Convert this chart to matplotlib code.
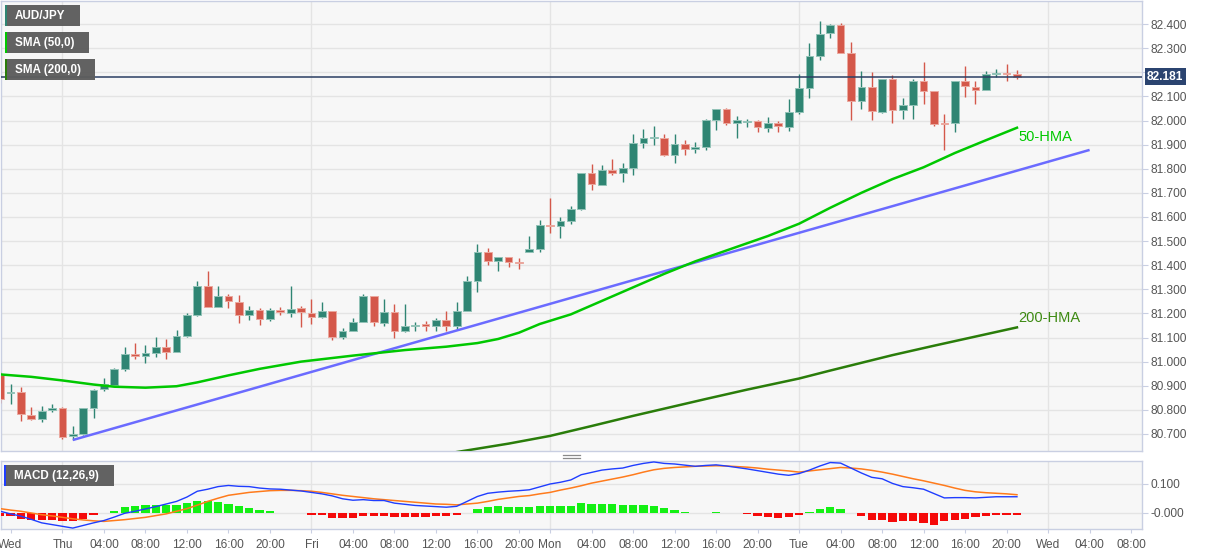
import matplotlib
matplotlib.use("Agg")
import matplotlib.pyplot as plt
from matplotlib.patches import Rectangle
from matplotlib.lines import Line2D

plt.rcParams['font.family'] = ['Liberation Sans', 'DejaVu Sans']

# ---------------- data (hourly bars, index 0 = Thu 00:00) ----------------
bar_index = list(range(-6, 93))
opens = [80.944, 80.872, 80.874, 80.778, 80.762, 80.799, 80.808, 80.690, 80.699, 80.808,
         80.886, 80.903, 80.968, 81.032, 81.024, 81.037, 81.060, 81.042, 81.107, 81.192,
         81.315, 81.228, 81.274, 81.247, 81.194, 81.214, 81.176, 81.214, 81.201, 81.222,
         81.201, 81.187, 81.208, 81.104, 81.129, 81.165, 81.271, 81.160, 81.207, 81.125,
         81.149, 81.155, 81.149, 81.174, 81.149, 81.210, 81.336, 81.454, 81.419, 81.433,
         81.413, 81.454, 81.469, 81.567, 81.564, 81.583, 81.633, 81.781, 81.733, 81.794,
         81.783, 81.803, 81.908, 81.928, 81.929, 81.858, 81.904, 81.882, 81.889, 82.004,
         82.049, 81.989, 81.992, 81.996, 81.967, 81.990, 81.974, 82.036, 82.136, 82.268,
         82.363, 82.394, 82.279, 82.082, 82.140, 82.036, 82.172, 82.043, 82.064, 82.165,
         82.122, 81.990, 81.988, 82.165, 82.140, 82.126, 82.194, 82.198, 82.192]
highs = [80.955, 80.906, 80.896, 80.810, 80.818, 80.824, 80.812, 80.733, 80.808, 80.885,
         80.931, 80.972, 81.060, 81.076, 81.068, 81.104, 81.093, 81.132, 81.201, 81.333,
         81.375, 81.315, 81.281, 81.278, 81.229, 81.221, 81.221, 81.226, 81.315, 81.229,
         81.260, 81.247, 81.210, 81.138, 81.181, 81.282, 81.273, 81.260, 81.239, 81.239,
         81.165, 81.168, 81.181, 81.208, 81.246, 81.357, 81.488, 81.471, 81.436, 81.436,
         81.429, 81.522, 81.589, 81.679, 81.599, 81.647, 81.783, 81.818, 81.814, 81.842,
         81.825, 81.942, 81.963, 81.979, 81.946, 81.942, 81.918, 81.911, 82.008, 82.049,
         82.050, 82.018, 82.008, 82.004, 82.013, 81.999, 82.088, 82.193, 82.321, 82.414,
         82.400, 82.404, 82.325, 82.206, 82.200, 82.174, 82.189, 82.092, 82.171, 82.242,
         82.122, 82.029, 82.165, 82.224, 82.165, 82.207, 82.214, 82.235, 82.210]
lows = [80.830, 80.826, 80.754, 80.760, 80.750, 80.792, 80.679, 80.677, 80.697, 80.768,
        80.880, 80.900, 80.962, 81.010, 80.993, 81.021, 81.010, 81.038, 81.101, 81.190,
        81.228, 81.225, 81.222, 81.160, 81.172, 81.153, 81.169, 81.193, 81.185, 81.143,
        81.157, 81.182, 81.090, 81.092, 81.126, 81.165, 81.149, 81.146, 81.096, 81.121,
        81.125, 81.128, 81.129, 81.125, 81.132, 81.208, 81.290, 81.399, 81.374, 81.394,
        81.383, 81.454, 81.453, 81.533, 81.513, 81.572, 81.628, 81.711, 81.731, 81.772,
        81.744, 81.775, 81.888, 81.900, 81.853, 81.825, 81.858, 81.865, 81.879, 81.960,
        81.983, 81.926, 81.974, 81.953, 81.953, 81.953, 81.957, 82.029, 82.092, 82.251,
        82.342, 82.282, 82.004, 82.046, 82.001, 82.033, 81.988, 82.008, 82.008, 82.067,
        81.976, 81.879, 81.953, 82.098, 82.067, 82.126, 82.182, 82.165, 82.171]
closes = [80.847, 80.876, 80.782, 80.762, 80.796, 80.806, 80.688, 80.698, 80.806, 80.883,
          80.906, 80.968, 81.033, 81.023, 81.034, 81.060, 81.042, 81.107, 81.192, 81.315,
          81.228, 81.274, 81.250, 81.194, 81.214, 81.176, 81.214, 81.204, 81.218, 81.204,
          81.187, 81.211, 81.101, 81.129, 81.165, 81.271, 81.163, 81.207, 81.126, 81.149,
          81.154, 81.147, 81.174, 81.149, 81.211, 81.335, 81.454, 81.418, 81.433, 81.414,
          81.407, 81.469, 81.567, 81.562, 81.583, 81.633, 81.781, 81.736, 81.794, 81.783,
          81.802, 81.908, 81.929, 81.931, 81.858, 81.904, 81.882, 81.889, 82.004, 82.049,
          81.988, 82.003, 81.996, 81.971, 81.990, 81.976, 82.036, 82.136, 82.266, 82.360,
          82.394, 82.282, 82.082, 82.138, 82.040, 82.172, 82.043, 82.064, 82.165, 82.124,
          81.985, 81.986, 82.165, 82.143, 82.126, 82.193, 82.198, 82.193, 82.181]
last_price = 82.181

# 50-HMA and 200-HMA (read at knots), trend line end points
hma50_idx = [-6, -3, 0, 3, 5, 8, 11, 13, 16, 19, 23, 28, 33, 37, 40, 42, 44, 46, 49, 52,
             55, 58, 61, 65, 68, 71, 74, 77, 80, 83, 86, 89, 92]
hma50_val = [80.947, 80.937, 80.922, 80.905, 80.896, 80.892, 80.898, 80.914, 80.943, 80.970,
             81.000, 81.025, 81.048, 81.062, 81.077, 81.094, 81.120, 81.156, 81.196, 81.252,
             81.308, 81.364, 81.416, 81.476, 81.521, 81.572, 81.638, 81.700, 81.757, 81.806,
             81.865, 81.918, 81.970]
hma200_idx = [36, 38, 43, 47, 51, 55, 59, 62, 66, 71, 74, 77, 80, 84, 88, 92]
hma200_val = [80.610, 80.625, 80.660, 80.692, 80.733, 80.775, 80.815, 80.845, 80.884, 80.930,
              80.963, 80.995, 81.027, 81.066, 81.104, 81.142]
trend_idx = [1, 99]
trend_val = [80.675, 81.878]

# MACD (12,26,9)
macd_line = [0.006, -0.003, -0.011, -0.022, -0.034, -0.040, -0.046, -0.052, -0.043, -0.034,
             -0.026, -0.014, -0.001, 0.006, 0.014, 0.022, 0.031, 0.040, 0.055, 0.075,
             0.082, 0.091, 0.095, 0.092, 0.091, 0.086, 0.083, 0.082, 0.079, 0.076,
             0.071, 0.066, 0.059, 0.049, 0.044, 0.046, 0.043, 0.043, 0.034, 0.030,
             0.026, 0.024, 0.022, 0.020, 0.023, 0.040, 0.057, 0.068, 0.072, 0.075,
             0.077, 0.080, 0.090, 0.100, 0.106, 0.114, 0.132, 0.140, 0.148, 0.152,
             0.155, 0.164, 0.171, 0.176, 0.171, 0.169, 0.165, 0.161, 0.164, 0.166,
             0.162, 0.157, 0.152, 0.146, 0.140, 0.134, 0.130, 0.136, 0.148, 0.162,
             0.174, 0.172, 0.155, 0.138, 0.123, 0.118, 0.102, 0.091, 0.087, 0.082,
             0.067, 0.052, 0.053, 0.053, 0.052, 0.054, 0.056, 0.056, 0.056]
signal_line = [0.015, 0.010, 0.006, 0.000, -0.006, -0.010, -0.015, -0.020, -0.024, -0.027,
               -0.029, -0.026, -0.023, -0.019, -0.015, -0.009, -0.003, 0.006, 0.015, 0.027,
               0.040, 0.051, 0.061, 0.066, 0.071, 0.074, 0.077, 0.078, 0.078, 0.077,
               0.075, 0.071, 0.066, 0.061, 0.057, 0.053, 0.049, 0.046, 0.043, 0.040,
               0.037, 0.034, 0.031, 0.030, 0.028, 0.031, 0.034, 0.040, 0.047, 0.052,
               0.057, 0.060, 0.066, 0.071, 0.079, 0.086, 0.094, 0.103, 0.110, 0.117,
               0.124, 0.132, 0.141, 0.149, 0.154, 0.157, 0.159, 0.161, 0.162, 0.163,
               0.162, 0.160, 0.158, 0.155, 0.151, 0.148, 0.145, 0.141, 0.145, 0.149,
               0.153, 0.157, 0.155, 0.152, 0.147, 0.141, 0.134, 0.126, 0.118, 0.111,
               0.103, 0.095, 0.086, 0.078, 0.073, 0.070, 0.068, 0.066, 0.063]
macd_hist = [-0.011, -0.011, -0.020, -0.025, -0.024, -0.024, -0.026, -0.029, -0.020, -0.008,
             0.001, 0.008, 0.020, 0.024, 0.026, 0.028, 0.028, 0.029, 0.033, 0.041,
             0.040, 0.038, 0.032, 0.023, 0.016, 0.009, 0.006, 0.002, 0.001, -0.002,
             -0.006, -0.006, -0.017, -0.018, -0.018, -0.010, -0.011, -0.011, -0.015, -0.015,
             -0.015, -0.015, -0.011, -0.011, -0.008, 0.002, 0.015, 0.021, 0.023, 0.021,
             0.020, 0.020, 0.024, 0.024, 0.024, 0.025, 0.033, 0.032, 0.032, 0.030,
             0.026, 0.029, 0.028, 0.024, 0.016, 0.010, 0.003, 0.000, 0.002, 0.003,
             0.001, -0.002, -0.005, -0.011, -0.014, -0.017, -0.015, -0.008, 0.003, 0.014,
             0.021, 0.015, -0.002, -0.011, -0.023, -0.023, -0.032, -0.029, -0.029, -0.034,
             -0.040, -0.026, -0.023, -0.020, -0.015, -0.009, -0.006, -0.006, -0.006]

# x-axis labels
tick_pos = [-5, 0, 4, 8, 12, 16, 20, 24, 28, 32, 36, 40, 44, 47, 51, 55, 59, 63, 67,
            71, 75, 79, 83, 87, 91, 95, 99, 103]
tick_lab = ['Wed', 'Thu', '04:00', '08:00', '12:00', '16:00', '20:00', 'Fri', '04:00', '08:00',
            '12:00', '16:00', '20:00', 'Mon', '04:00', '08:00', '12:00', '16:00', '20:00',
            'Tue', '04:00', '08:00', '12:00', '16:00', '20:00', 'Wed', '04:00', '08:00']
day_lines = [0, 24, 47, 71, 95]
price_ticks = [80.7, 80.8, 80.9, 81.0, 81.1, 81.2, 81.3, 81.4, 81.5, 81.6, 81.7, 81.8,
               81.9, 82.0, 82.1, 82.2, 82.3, 82.4]
macd_ticks = [0.0, 0.1]
macd_tick_lab = ['-0.000', '0.100']

# ---------------- figure ----------------
W, H = 1207, 555
fig = plt.figure(figsize=(W / 100, H / 100), dpi=100)
fig.patch.set_facecolor('white')


def fbox(x0, y0, x1, y1):
    return [x0 / W, 1 - y1 / H, (x1 - x0) / W, (y1 - y0) / H]


ax = fig.add_axes(fbox(1, 1, 1142, 451))
ax2 = fig.add_axes(fbox(1, 461, 1142, 529))

GREEN = '#2f8573'
RED = '#d4584a'
GREEN_E = '#93c3b8'
RED_E = '#eba89e'
GRID = '#e4e4e4'
SPINE = '#c9cfe2'
TXT = '#555555'

xmin, xmax = -5.92, 104.05
for a in (ax, ax2):
    a.set_facecolor('#f7f7f7')
    a.set_xlim(xmin, xmax)
    for s in a.spines.values():
        s.set_color(SPINE)
        s.set_linewidth(1)
    for d in day_lines:
        a.axvline(d, color=GRID, lw=1, zorder=0)

# main panel
ax.set_ylim(80.6294, 82.4956)
ax.yaxis.tick_right()
ax.set_yticks(price_ticks)
ax.set_yticklabels(['%.3f' % v for v in price_ticks])
ax.tick_params(axis='y', length=4, color=SPINE, labelcolor=TXT, labelsize=8.6, pad=2)
ax.set_xticks([])
for v in price_ticks:
    ax.axhline(v, color=GRID, lw=1, zorder=0)

for i, o, h, l, c in zip(bar_index, opens, highs, lows, closes):
    up = c >= o
    col = GREEN if up else RED
    ax.vlines(i, l, h, color=col, lw=1.0, zorder=3)
    bot = min(o, c)
    hgt = max(abs(c - o), 0.004)
    ax.add_patch(Rectangle((i - 0.37, bot), 0.74, hgt, facecolor=col,
                           edgecolor=GREEN_E if up else RED_E, lw=0.7, zorder=4))

ax.plot(trend_idx, trend_val, color='#6b6bff', lw=1.8, zorder=5, solid_capstyle='butt')
ax.plot(hma50_idx, hma50_val, color='#00c800', lw=1.8, zorder=5)
ax.plot(hma200_idx, hma200_val, color='#2a7d0a', lw=1.8, zorder=5)
ax.text(92.1, 81.932, '50-HMA', color='#00c800', fontsize=10.5, va='center', ha='left',
        zorder=6)
ax.text(92.1, 81.182, '200-HMA', color='#3d8a12', fontsize=10.5, va='center', ha='left',
        zorder=6)

ax.axhline(last_price, color='#2b3f63', lw=1.1, zorder=6)
ax.annotate('%.3f' % last_price, xy=(1.0, last_price), xycoords=('axes fraction', 'data'),
            xytext=(5, 0), textcoords='offset pixels', ha='left', va='center',
            color='white', fontsize=8.6, fontweight='bold', annotation_clip=False,
            bbox=dict(boxstyle='square,pad=0.2', fc='#2b4470', ec='none'), zorder=10)

# MACD panel
ax2.set_ylim(-0.0552, 0.1793)
ax2.yaxis.tick_right()
ax2.set_yticks(macd_ticks)
ax2.set_yticklabels(macd_tick_lab)
ax2.tick_params(axis='y', length=4, color=SPINE, labelcolor=TXT, labelsize=8.6, pad=2)
for v in macd_ticks:
    ax2.axhline(v, color=GRID, lw=1, zorder=0)
ax2.set_xticks(tick_pos)
ax2.set_xticklabels(tick_lab)
ax2.tick_params(axis='x', length=3, color=SPINE, labelcolor=TXT, labelsize=8.6, pad=4)

hcols = []
for v in macd_hist:
    if abs(v) < 0.0025:
        hcols.append('#a8f5a8' if v >= 0 else '#f5a8a8')
    else:
        hcols.append('#14f014' if v >= 0 else '#f50a0a')
hvals = [v if abs(v) >= 0.0025 else (0.0012 if v >= 0 else -0.0012) for v in macd_hist]
ax2.bar(bar_index, hvals, width=0.8, color=hcols, zorder=3)
ax2.plot(bar_index, signal_line, color='#ff7b1c', lw=1.1, zorder=4)
ax2.plot(bar_index, macd_line, color='#1f3dff', lw=1.0, zorder=5)

# legend boxes
def label_box(x0, y0, x1, y1, text, bar_col):
    fig.add_artist(Rectangle((x0 / W, 1 - y1 / H), (x1 - x0) / W, (y1 - y0) / H,
                             transform=fig.transFigure, facecolor='#5d5d5d',
                             edgecolor='none', alpha=0.97, zorder=20))
    fig.add_artist(Rectangle((x0 / W, 1 - y1 / H), 2.2 / W, (y1 - y0) / H,
                             transform=fig.transFigure, facecolor=bar_col,
                             edgecolor='none', zorder=21))
    fig.text((x0 + 10) / W, 1 - ((y0 + y1) / 2 + 0.5) / H, text, color='white',
             fontsize=8.4, fontweight='bold', va='center', ha='left', zorder=22)


label_box(5, 5, 80, 26, 'AUD/JPY', '#2f8573')
label_box(5, 32, 89, 53, 'SMA (50,0)', '#00c800')
label_box(5, 59, 95, 80, 'SMA (200,0)', '#2a7d0a')
label_box(4, 465, 114, 486, 'MACD (12,26,9)', '#1f3dff')

# panel separator handle
for yy in (455, 457.5):
    fig.add_artist(Line2D([563 / W, 580 / W], [1 - yy / H, 1 - yy / H],
                          transform=fig.transFigure, color='#8a8a8a', lw=0.9))

fig.savefig('out.png', dpi=100, facecolor='white')
